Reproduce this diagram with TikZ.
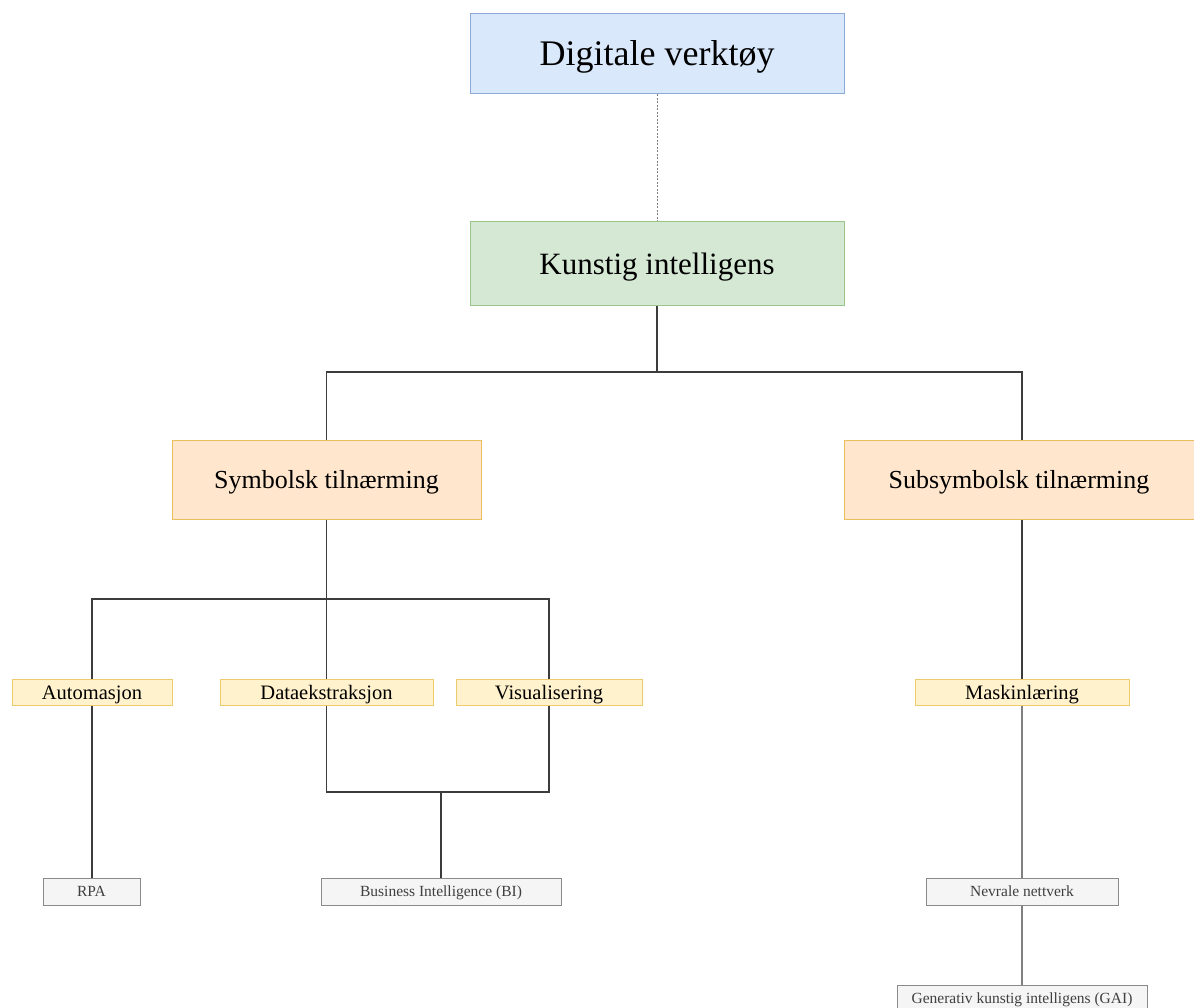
\documentclass[tikz,border=0pt]{standalone}
\usepackage{fontspec}
\setmainfont{Liberation Serif}
\definecolor{bluefill}{HTML}{DAE8FC}
\definecolor{bluedraw}{HTML}{8DA9D8}
\definecolor{greenfill}{HTML}{D5E8D4}
\definecolor{greendraw}{HTML}{9AC68A}
\definecolor{orangefill}{HTML}{FFE6CC}
\definecolor{orangedraw}{HTML}{EBC05C}
\definecolor{yellowfill}{HTML}{FFF2CC}
\definecolor{yellowdraw}{HTML}{EBCB6E}
\definecolor{grayfill}{HTML}{F5F5F5}
\definecolor{graydraw}{HTML}{8A8A8A}
\definecolor{linecol}{HTML}{3C3C3C}
\tikzset{
  box/.style={rectangle, inner sep=0pt, anchor=center, line width=1pt, text=black, text depth=0pt},
  topbox/.style={box, fill=bluefill, draw=bluedraw, minimum width=374pt, minimum height=80pt, text height=24pt, font=\fontsize{36}{40}\selectfont},
  kibox/.style={box, fill=greenfill, draw=greendraw, minimum width=374pt, minimum height=84pt, text height=21pt, font=\fontsize{31}{36}\selectfont},
  appbox/.style={box, fill=orangefill, draw=orangedraw, minimum height=79pt, text height=17.5pt, font=\fontsize{26}{30}\selectfont},
  catbox/.style={box, fill=yellowfill, draw=yellowdraw, minimum height=26pt, text height=14pt, font=\fontsize{20.5}{24}\selectfont},
  leafbox/.style={box, fill=grayfill, draw=graydraw, minimum height=27pt, text height=10.5pt, text=black!75, font=\fontsize{15.5}{18}\selectfont},
  conn/.style={draw=linecol, line width=1.1pt},
  dotconn/.style={draw=gray, line width=1pt, dash pattern=on 2pt off 1.5pt}
}
\begin{document}
\begin{tikzpicture}[x=1pt,y=-1pt]
\useasboundingbox (0,0) rectangle (1194,1008);
\fill[white] (0,0) rectangle (1194,1008);

\node[topbox] (dv) at (657,54) {Digitale verktøy};
\node[kibox] (ki) at (657,264) {Kunstig intelligens};
\node[appbox, minimum width=309pt] (sym) at (326.5,479.5) {Symbolsk tilnærming};
\node[appbox, minimum width=356pt] (sub) at (1022,479.5) {\hspace*{-6pt}Subsymbolsk tilnærming};

\node[catbox, minimum width=160pt] (auto) at (92,692) {Automasjon};
\node[catbox, minimum width=213pt] (dat) at (326.5,692) {Dataekstraksjon};
\node[catbox, minimum width=186pt] (vis) at (549,692) {Visualisering};
\node[catbox, minimum width=214pt] (mask) at (1022,692) {Maskinlæring};

\node[leafbox, minimum width=97pt] (rpa) at (91.5,891.5) {RPA};
\node[leafbox, minimum width=240pt] (bi) at (441,891.5) {Business Intelligence (BI)};
\node[leafbox, minimum width=192pt] (nn) at (1022,891.5) {Nevrale nettverk};
\node[leafbox, minimum width=250pt] (gai) at (1022,998.5) {Generativ kunstig intelligens (GAI)};

\coordinate (j1) at (657,372);
\coordinate (j2) at (326.5,599);
\coordinate (j3) at (441,792);

\draw[dotconn] (dv.south) -- (ki.north);

\draw[conn] (ki.south) -- (j1);
\draw[conn] (sym.north) -- (sym.north |- j1) -- (sub.north |- j1) -- (sub.north);

\draw[conn] (sym.south) -- (dat.north);
\draw[conn] (auto.north) -- (auto.north |- j2) -- (vis.north |- j2) -- (vis.north);

\draw[conn] (auto.south) -- (rpa.north -| auto.south);
\draw[conn] (dat.south) -- (dat.south |- j3) -- (vis.south |- j3) -- (vis.south);
\draw[conn] (j3) -- (bi.north);

\draw[conn] (sub.south) -- (mask.north);
\draw[conn, draw=gray] (mask.south) -- (nn.north);
\draw[conn, draw=gray] (nn.south) -- (gai.north);
\end{tikzpicture}
\end{document}
